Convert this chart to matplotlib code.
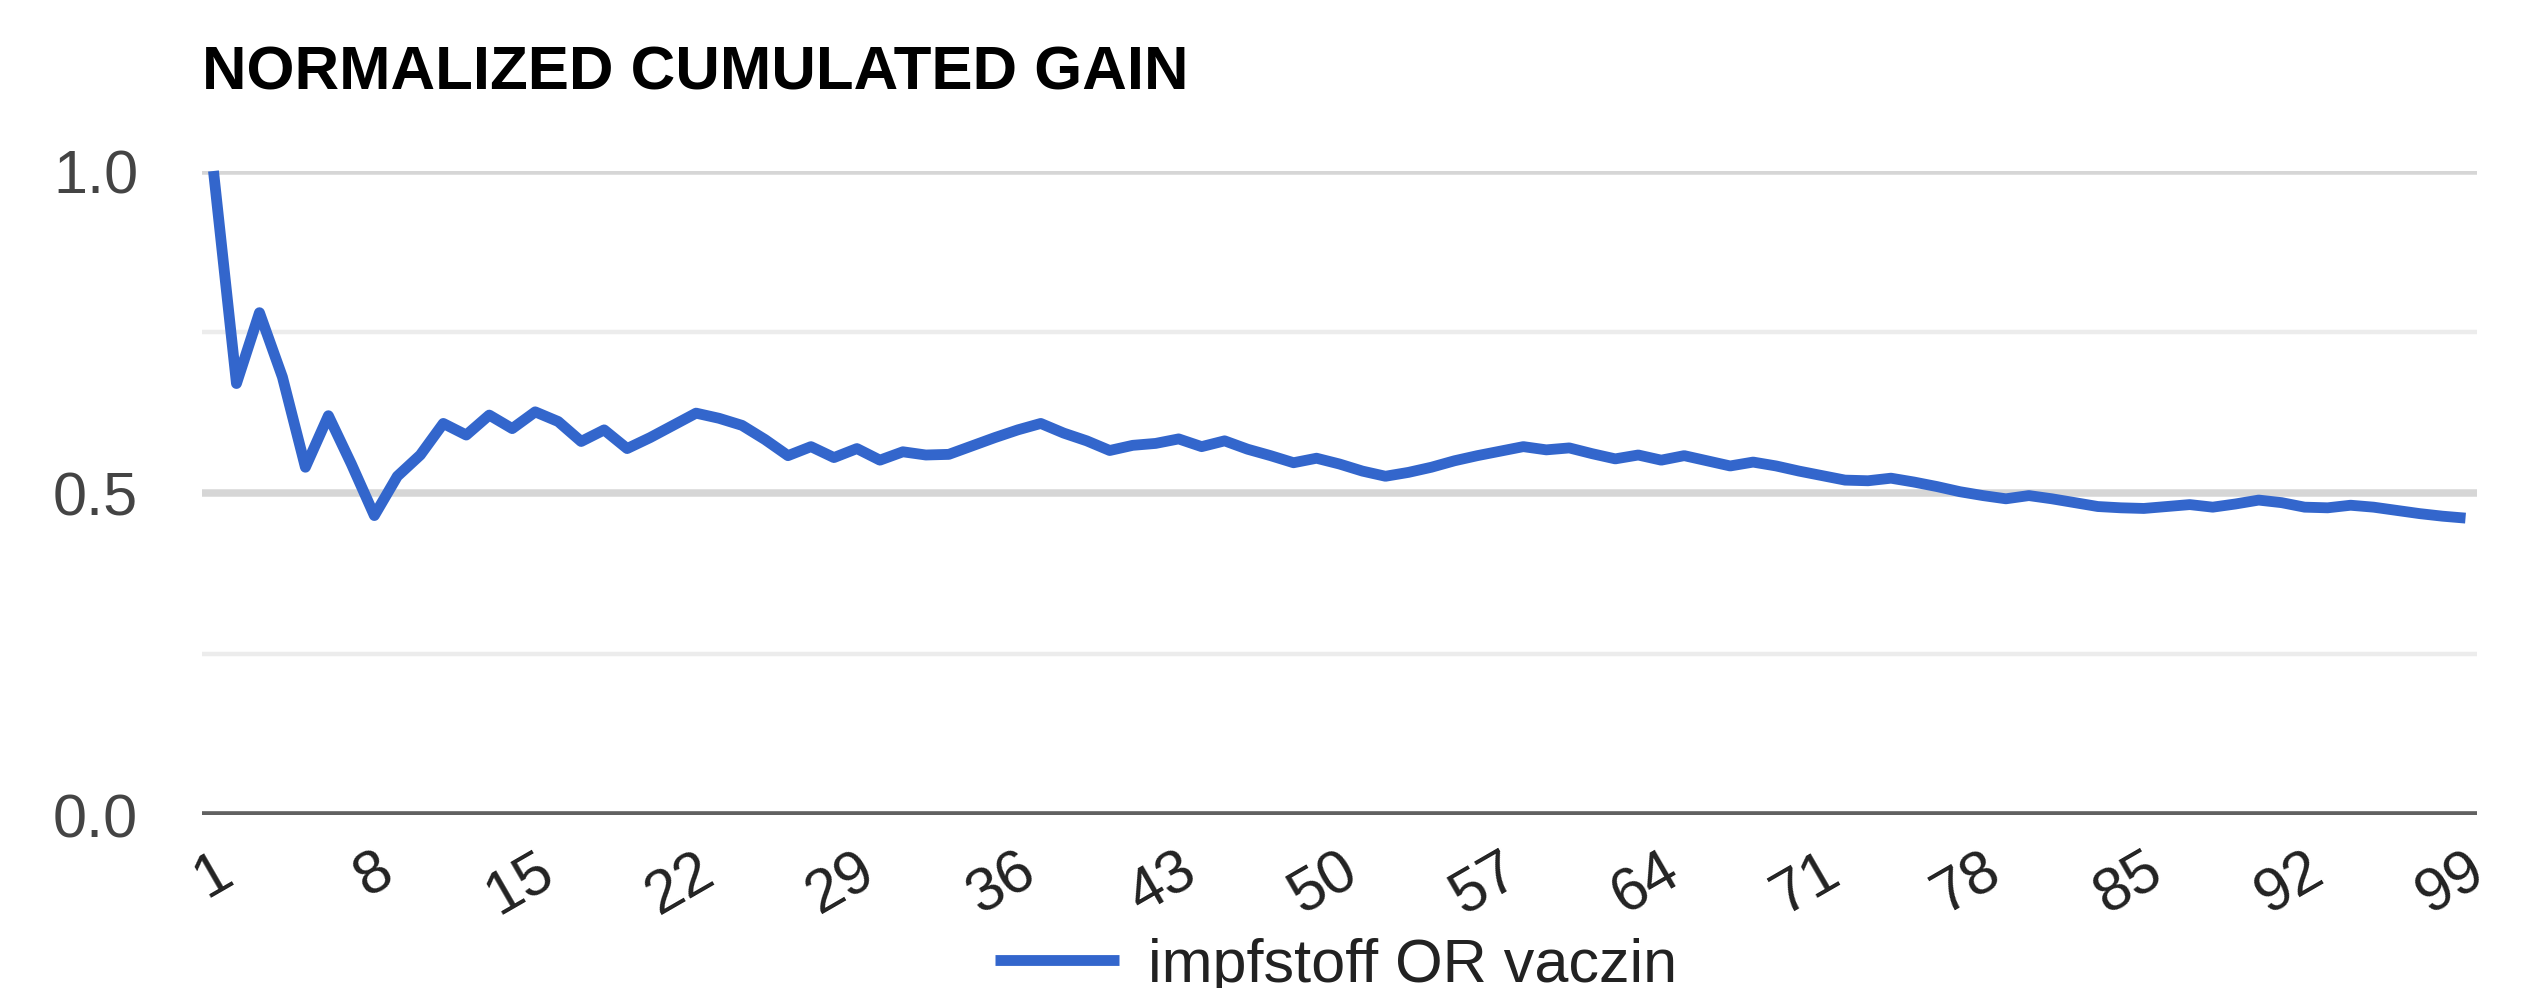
import numpy as np
import matplotlib
matplotlib.use("Agg")
import matplotlib.pyplot as plt

plt.rcParams['font.family'] = ['Liberation Sans', 'DejaVu Sans']

# data
ranks = list(range(1, 100))
ncg = [
    1.000, 0.670, 0.780, 0.680, 0.540, 0.620, 0.545, 0.465, 0.526, 0.559,
    0.608, 0.590, 0.621, 0.600, 0.626, 0.611, 0.580, 0.598, 0.569, 0.586,
    0.605, 0.624, 0.616, 0.605, 0.583, 0.558, 0.572, 0.555, 0.569, 0.551,
    0.564, 0.559, 0.560, 0.573, 0.586, 0.598, 0.608, 0.593, 0.581, 0.566,
    0.574, 0.577, 0.584, 0.572, 0.581, 0.568, 0.558, 0.547, 0.554, 0.545,
    0.534, 0.526, 0.532, 0.540, 0.550, 0.558, 0.565, 0.572, 0.567, 0.570,
    0.561, 0.553, 0.559, 0.551, 0.558, 0.550, 0.542, 0.548, 0.542, 0.534,
    0.527, 0.520, 0.519, 0.523, 0.517, 0.510, 0.502, 0.496, 0.491, 0.496,
    0.491, 0.485, 0.479, 0.477, 0.476, 0.479, 0.482, 0.478, 0.483, 0.489,
    0.485, 0.478, 0.477, 0.481, 0.478, 0.473, 0.468, 0.464, 0.461,
]
series_name = 'impfstoff OR vaczin'
xticks = list(range(1, 100, 7))
yticks_major = [0.0, 0.5, 1.0]
yticks_minor = [0.25, 0.75]

W, H = 2532, 988
fig = plt.figure(figsize=(W / 100, H / 100), dpi=100)
ax = fig.add_axes([202 / W, (H - 815) / H, 2275 / W, 644 / H])

# gridlines
for y in yticks_minor:
    ax.axhline(y, color='#ececec', lw=3.2, zorder=0)
for y in yticks_major[1:]:
    ax.axhline(y, color='#d6d6d6', lw=5.4, zorder=0)
ax.axhline(0, color='#616161', lw=5.5, zorder=1)

ax.plot(ranks, ncg, color='#3366cc', lw=7.8, solid_joinstyle='round',
        solid_capstyle='butt', clip_on=False, zorder=3, label=series_name)

ax.set_xlim(0.5, 99.5)
ax.set_ylim(0, 1)
for s in ax.spines.values():
    s.set_visible(False)

ax.set_yticks(yticks_major)
ax.set_yticklabels([f'{v:.1f}' for v in yticks_major])
ax.tick_params(axis='y', length=0, pad=46, labelsize=44, labelcolor='#444444')

ax.set_xticks(xticks)
ax.set_xticklabels([str(t) for t in xticks], rotation=30, ha='right',
                   va='top', rotation_mode='anchor')
ax.tick_params(axis='x', length=0, pad=20, labelsize=44, labelcolor='#222222')

fig.text(202 / W, 1 - 90 / H, 'NORMALIZED CUMULATED GAIN', fontsize=44.5,
         fontweight='bold', color='black', va='baseline', ha='left')

fig.legend(loc='center left', bbox_to_anchor=(995 / W, 1 - 966 / H),
           frameon=False, fontsize=44, handlelength=2.03, handletextpad=0.47,
           borderpad=0, borderaxespad=0, labelcolor='#222222')

fig.savefig('out.png', dpi=100)
